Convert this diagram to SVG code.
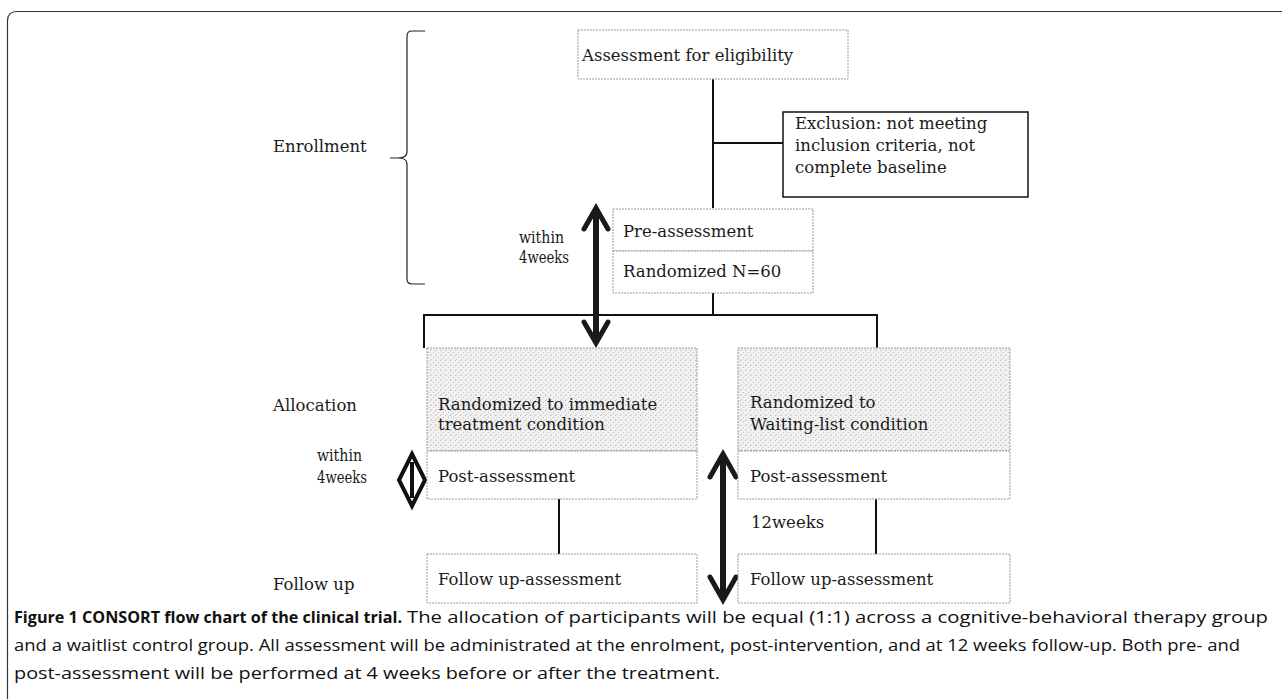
<svg xmlns="http://www.w3.org/2000/svg" width="1282" height="699" viewBox="0 0 1282 699">
<style>
.t{font-family:"DejaVu Serif","Liberation Serif",serif;font-size:16.5px;fill:#1a1a1a}
.box{fill:#fff;stroke:#9a9a9a;stroke-width:1;stroke-dasharray:2 1}
.shade{fill:url(#stipple);stroke:#9a9a9a;stroke-width:1;stroke-dasharray:2 1}
.ln{stroke:#111;stroke-width:2;fill:none}
.cap{font-family:"Open Sans","Liberation Sans",sans-serif;font-size:16px;fill:#111}
.shaft{stroke:#1a1a1a;stroke-width:6;fill:none}
.head{stroke:#1a1a1a;stroke-width:5;fill:none;stroke-linecap:round;stroke-linejoin:miter}
</style>
<defs>
<pattern id="stipple" width="5" height="5" patternUnits="userSpaceOnUse">
<rect width="5" height="5" fill="#f1f1f1"/>
<rect x="0" y="0" width="1" height="1" fill="#b8b8b8"/>
<rect x="3" y="2" width="1" height="1" fill="#c4c4c4"/>
<rect x="1" y="4" width="1" height="1" fill="#cdcdcd"/>
</pattern>
</defs>
<rect width="1282" height="699" fill="#fff"/>
<path d="M7.5,699 V21 Q7.5,11.5 17,11.5 H1282" fill="none" stroke="#333" stroke-width="1.2"/>

<g id="labels">
<text class="t" x="273" y="152">Enrollment</text>
<text class="t" x="519" y="243" textLength="45" lengthAdjust="spacingAndGlyphs">within</text>
<text class="t" x="519" y="263" textLength="50" lengthAdjust="spacingAndGlyphs">4weeks</text>
<text class="t" x="273" y="411">Allocation</text>
<text class="t" x="317" y="461" textLength="45" lengthAdjust="spacingAndGlyphs">within</text>
<text class="t" x="317" y="483" textLength="50" lengthAdjust="spacingAndGlyphs">4weeks</text>
<text class="t" x="273" y="590">Follow up</text>
<text class="t" x="751" y="528">12weeks</text>
</g>

<g id="brace">
<path d="M425,31 H412 Q407,31 407,36 V152 Q407,158 398,158 H390 M398,158 Q407,158 407,164 V279 Q407,284 412,284 H425" fill="none" stroke="#222" stroke-width="1.2"/>
</g>

<g id="connectors">
<path class="ln" d="M713,79 V208"/>
<path class="ln" d="M713,143 H783"/>
<path class="ln" d="M713,293 V315"/>
<path class="ln" d="M424,315 H877"/>
<path class="ln" d="M424,314 V348"/>
<path class="ln" d="M877,314 V348"/>
<path class="ln" d="M559,499 V554"/>
<path class="ln" d="M876,499 V554"/>
</g>

<g id="arrow-pre">
<path class="shaft" d="M596,212 V341"/>
<path class="head" d="M584,229 L596,208 L608,229"/>
<path class="head" d="M584,322 L596,343 L608,322"/>
</g>

<g id="arrow-post-left">
<path d="M412,454 L425,480 L412,506 L399,480 Z" fill="none" stroke="#111" stroke-width="4" stroke-linejoin="miter"/>
<path d="M412,462 V498" stroke="#111" stroke-width="4"/>
</g>

<g id="arrow-12weeks">
<path class="shaft" d="M723,458 V597"/>
<path class="head" d="M710,477 L723,454 L736,477"/>
<path class="head" d="M710,577 L723,600 L736,577"/>
</g>

<g id="node-eligibility">
<rect class="box" x="578" y="30" width="270" height="49"/>
<text class="t" x="582" y="61">Assessment for eligibility</text>
</g>

<g id="node-exclusion">
<rect x="783" y="112" width="245" height="85" fill="#fff" stroke="#111" stroke-width="1.5"/>
<text class="t" x="795" y="129">Exclusion: not meeting</text>
<text class="t" x="795" y="151">inclusion criteria, not</text>
<text class="t" x="795" y="173">complete baseline</text>
</g>

<g id="node-pre">
<rect class="box" x="613" y="209" width="200" height="42"/>
<text class="t" x="623" y="237">Pre-assessment</text>
</g>
<g id="node-randomized">
<rect class="box" x="613" y="251" width="200" height="42"/>
<text class="t" x="623" y="277">Randomized N=60</text>
</g>

<g id="node-immediate">
<rect class="shade" x="427" y="348" width="270" height="103"/>
<text class="t" x="438" y="410">Randomized to immediate</text>
<text class="t" x="438" y="430">treatment condition</text>
</g>
<g id="node-post-left">
<rect class="box" x="427" y="451" width="270" height="48"/>
<text class="t" x="438" y="482">Post-assessment</text>
</g>
<g id="node-follow-left">
<rect class="box" x="427" y="554" width="270" height="49"/>
<text class="t" x="438" y="585">Follow up-assessment</text>
</g>

<g id="node-waiting">
<rect class="shade" x="738" y="348" width="272" height="103"/>
<text class="t" x="750" y="408">Randomized to</text>
<text class="t" x="750" y="430">Waiting-list condition</text>
</g>
<g id="node-post-right">
<rect class="box" x="738" y="451" width="272" height="48"/>
<text class="t" x="750" y="482">Post-assessment</text>
</g>
<g id="node-follow-right">
<rect class="box" x="738" y="554" width="272" height="49"/>
<text class="t" x="750" y="585">Follow up-assessment</text>
</g>

<g id="caption">
<text class="cap" x="14" y="623" font-weight="bold" textLength="388" lengthAdjust="spacingAndGlyphs">Figure 1 CONSORT flow chart of the clinical trial.</text>
<text class="cap" x="407" y="623" textLength="861" lengthAdjust="spacingAndGlyphs">The allocation of participants will be equal (1:1) across a cognitive-behavioral therapy group</text>
<text class="cap" x="14" y="651" textLength="1226" lengthAdjust="spacingAndGlyphs">and a waitlist control group. All assessment will be administrated at the enrolment, post-intervention, and at 12 weeks follow-up. Both pre- and</text>
<text class="cap" x="14" y="679" textLength="706" lengthAdjust="spacingAndGlyphs">post-assessment will be performed at 4 weeks before or after the treatment.</text>
</g>
</svg>
